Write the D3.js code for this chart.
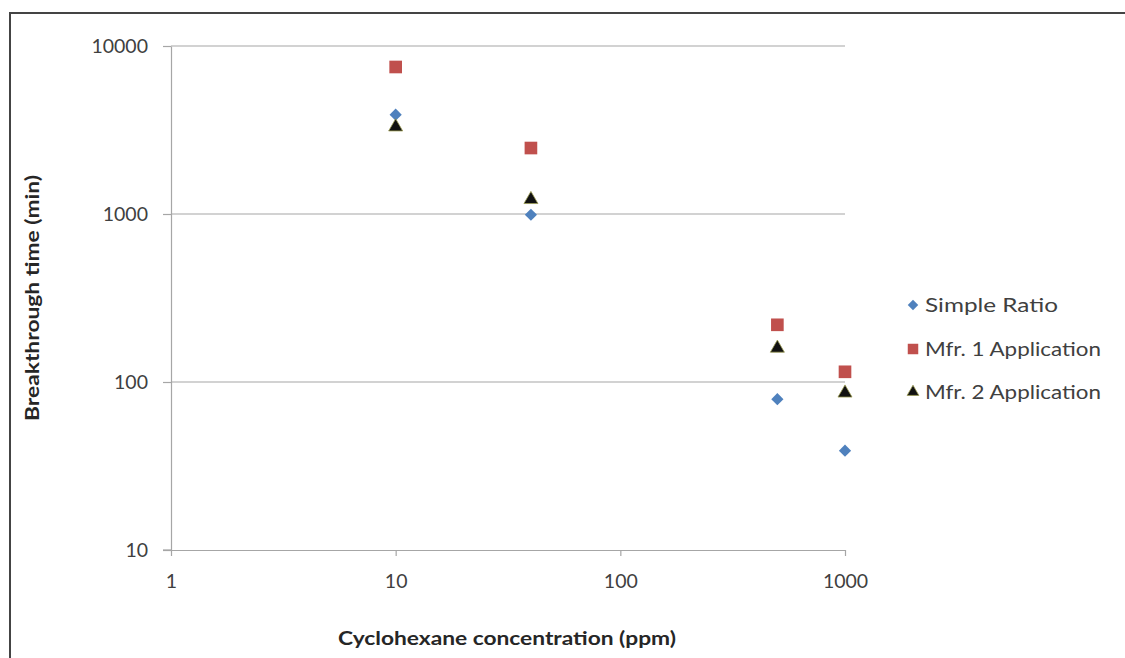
<!DOCTYPE html>
<html><head><meta charset="utf-8">
<script src="https://cdn.jsdelivr.net/npm/d3@7/dist/d3.min.js"></script>
<style>body{margin:0;background:#fff}svg{display:block}text{font-family:Lato,"Open Sans",sans-serif}</style>
</head><body>
<svg id="c" width="1125" height="658"></svg>
<script>
const xValues = [10, 40, 500, 1000];
const simpleRatio = [3900, 990, 79, 39];
const mfr1 = [7500, 2470, 219, 115];
const mfr2 = [3300, 1220, 159, 86];
const seriesNames = ["Simple Ratio", "Mfr. 1 Application", "Mfr. 2 Application"];
const xTicks = [1, 10, 100, 1000];
const yTicks = [10, 100, 1000, 10000];

const svg = d3.select("#c");
svg.append("rect").attr("x", 10).attr("y", 13).attr("width", 1125).attr("height", 700)
  .attr("fill", "#fff").attr("stroke", "#444").attr("stroke-width", 2);

const x = d3.scaleLog().domain([1, 1000]).range([171, 845]);
const y = d3.scaleLog().domain([10, 10000]).range([550, 46]);

svg.append("g").selectAll("line").data(yTicks.slice(1)).join("line")
  .attr("x1", 171).attr("x2", 845).attr("y1", d => y(d)).attr("y2", d => y(d))
  .attr("stroke", "#a6a6a6").attr("stroke-width", 1.2);

const xa = svg.append("g").attr("transform", "translate(0,550)")
  .call(d3.axisBottom(x).tickValues(xTicks).tickFormat(d3.format("d")).tickSize(6).tickPadding(18).tickSizeOuter(0));
const ya = svg.append("g").attr("transform", "translate(171,0)")
  .call(d3.axisLeft(y).tickValues(yTicks).tickFormat(d3.format("d")).tickSize(8).tickPadding(15).tickSizeOuter(0));
[xa, ya].forEach(a => {
  a.select(".domain").attr("stroke", "#a6a6a6").attr("stroke-width", 1.2);
  a.selectAll(".tick line").attr("stroke", "#a6a6a6").attr("stroke-width", 1.2);
  a.selectAll("text").attr("fill", "#404040").style("font-size", "19.5px").style("font-family", "Lato");
});
svg.append("line").attr("x1", 163).attr("x2", 171).attr("y1", 550).attr("y2", 550).attr("stroke", "#a6a6a6").attr("stroke-width", 1.2);

svg.append("text").attr("x", 507).attr("y", 645).attr("text-anchor", "middle")
  .attr("font-weight", "bold").attr("font-size", 19).attr("fill", "#262626")
  .attr("textLength", 338).attr("lengthAdjust", "spacingAndGlyphs").text("Cyclohexane concentration (ppm)");
svg.append("text").attr("transform", "translate(39,298) rotate(-90)").attr("text-anchor", "middle")
  .attr("font-weight", "bold").attr("font-size", 19).attr("fill", "#262626")
  .attr("textLength", 246).attr("lengthAdjust", "spacingAndGlyphs").text("Breakthrough time (min)");

const symDiamond = d3.symbol().type(d3.symbolDiamond2).size(95);
const symSquare = d3.symbol().type(d3.symbolSquare).size(160);
const symTri = d3.symbol().type(d3.symbolTriangle).size(85);

const series = [
  {name: seriesNames[0], vals: simpleRatio, sym: symDiamond, fill: "#4f81bd", stroke: "none", len: 133},
  {name: seriesNames[1], vals: mfr1, sym: symSquare, fill: "#c0504d", stroke: "none", len: 176},
  {name: seriesNames[2], vals: mfr2, sym: symTri, fill: "#111", stroke: "#9b9b50", len: 176}
];
series.forEach(s => {
  svg.append("g").selectAll("path").data(xValues.map((xv, i) => [xv, s.vals[i]])).join("path")
    .attr("d", s.sym()).attr("transform", d => `translate(${x(d[0])},${y(d[1])})`)
    .attr("fill", s.fill).attr("stroke", s.stroke).attr("stroke-width", 0.8);
});

const leg = svg.append("g");
const legY = [305, 349, 392];
series.forEach((s, i) => {
  const small = i === 1 ? d3.symbol().type(d3.symbolSquare).size(110) : (i === 0 ? d3.symbol().type(d3.symbolDiamond2).size(70) : d3.symbol().type(d3.symbolTriangle).size(60));
  leg.append("path").attr("d", small()).attr("transform", `translate(913,${legY[i]})`)
    .attr("fill", s.fill).attr("stroke", s.stroke).attr("stroke-width", 0.8);
  leg.append("text").attr("x", 925).attr("y", legY[i]).attr("dy", "0.36em")
    .attr("font-size", 19.5).attr("fill", "#404040")
    .attr("textLength", s.len).attr("lengthAdjust", "spacingAndGlyphs").text(s.name);
});
</script>
</body></html>
